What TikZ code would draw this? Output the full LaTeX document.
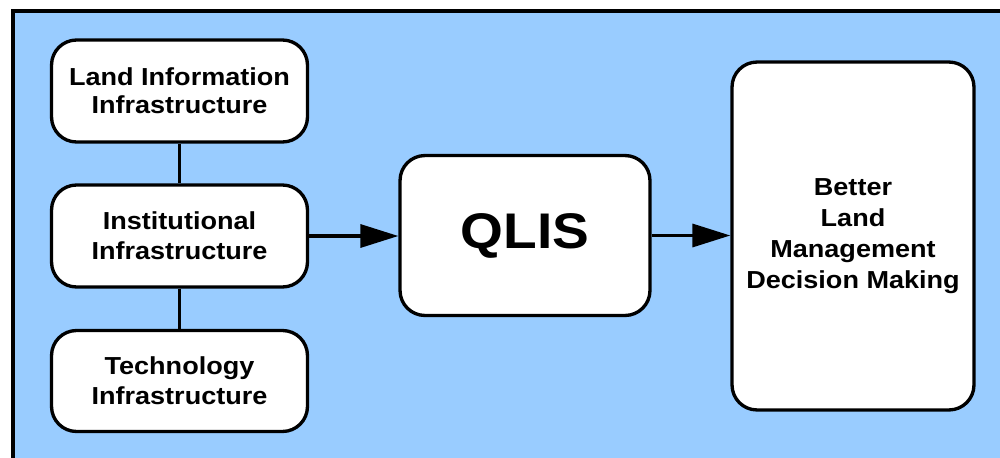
\documentclass[tikz,border=0pt]{standalone}
\usepackage{fontspec}
\newfontfamily\lab[FakeStretch=1.1]{Liberation Sans}
\usetikzlibrary{arrows.meta}
\definecolor{bgblue}{HTML}{99CCFF}
\tikzset{
  box/.style={draw=black, fill=white, line width=1.9pt, rounded corners=0.5cm,
    align=center, inner sep=0pt,
    font=\lab\bfseries\fontsize{14}{17}\selectfont},
  link/.style={line width=1.9pt},
  flow/.style={line width=1.9pt, -{Triangle[length=0.76cm,width=0.46cm]}}
}
\begin{document}
\begin{tikzpicture}[x=0.02cm,y=-0.02cm]
\useasboundingbox (0,0) rectangle (1000,457);
\clip (0,0) rectangle (1000,457);
\fill[white] (0,0) rectangle (1000,457);
\draw[line width=2.1pt, fill=bgblue] (13,11) rectangle (1020,480);

\node[box, minimum width=5.12cm, minimum height=2.04cm] (lii) at (179.5,91)
  {Land Information\\[-1pt]Infrastructure};
\node[box, minimum width=5.12cm, minimum height=2.04cm] (ii) at (179.5,236)
  {Institutional\\Infrastructure};
\node[box, minimum width=5.12cm, minimum height=2.02cm] (ti) at (179.5,381)
  {Technology\\Infrastructure};
\node[box, minimum width=5.0cm, minimum height=3.2cm,
  font=\lab\bfseries\fontsize{28.5}{32}\selectfont] (qlis) at (525,235.5) {QLIS};
\node[box, minimum width=4.84cm, minimum height=6.96cm,
  font=\lab\bfseries\fontsize{14}{17.6}\selectfont] (blm) at (853,236)
  {Better\\Land\\Management\\Decision Making};

\draw[link] (lii) -- (ii);
\draw[link] (ii) -- (ti);
\draw[flow] (ii.east) -- (ii.east -| qlis.west);
\draw[flow] (qlis.east) -- (qlis.east -| blm.west);
\end{tikzpicture}
\end{document}
